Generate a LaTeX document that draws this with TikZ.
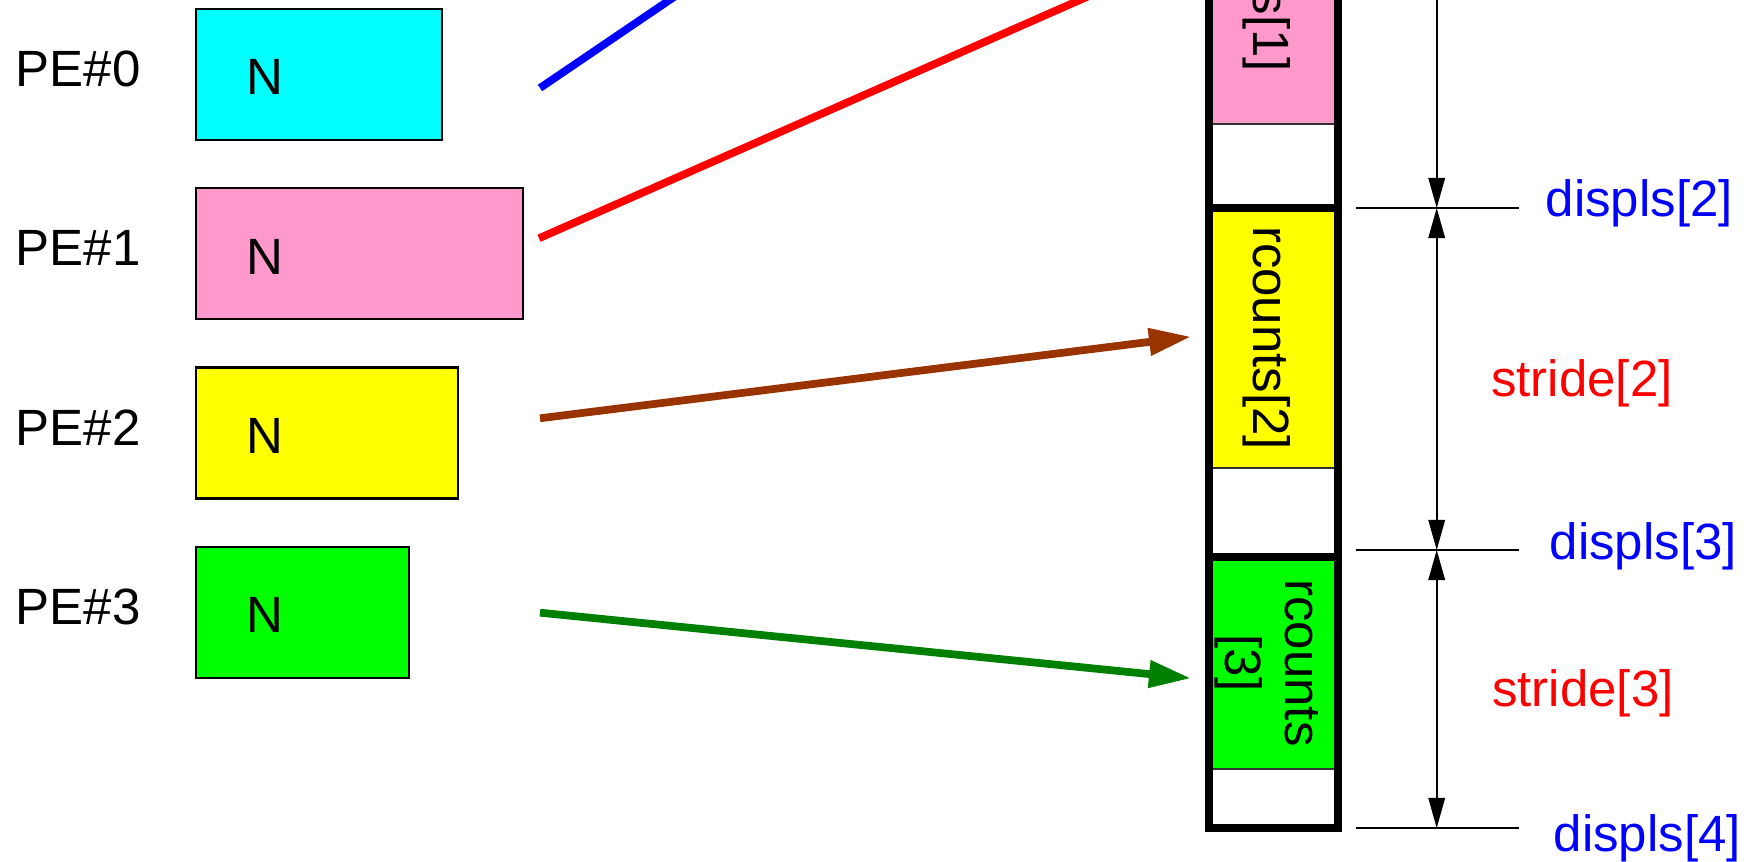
\documentclass[tikz,border=0pt]{standalone}
\usepackage{fontspec}
\setmainfont{Liberation Sans}
\usetikzlibrary{arrows.meta,calc}
\definecolor{pecyan}{RGB}{0,255,255}
\definecolor{pepink}{RGB}{255,153,204}
\definecolor{peyellow}{RGB}{255,255,0}
\definecolor{pegreen}{RGB}{0,255,0}
\definecolor{pebrown}{RGB}{153,51,0}
\definecolor{pedkgreen}{RGB}{0,128,0}
\definecolor{peblue}{RGB}{0,0,255}
\definecolor{pered}{RGB}{255,0,0}
\begin{document}
\begin{tikzpicture}[x=0.01cm,y=-0.01cm,
  font=\fontsize{14.5}{17}\selectfont,
  pebox/.style={draw=black, line width=0.6pt, inner sep=0pt, outer sep=0pt, minimum height=1.31cm},
  pelbl/.style={anchor=base west, inner sep=0pt},
  nlbl/.style={anchor=base, inner sep=0pt},
  conn/.style={line width=2.2pt},
  bigtip/.style={-{Triangle[length=0.42cm,width=0.26cm]}},
  bufseg/.style={inner sep=0pt, outer sep=0pt, minimum width=1.29cm},
  buftxt/.style={rotate=-90, inner sep=0pt, align=center},
  dimline/.style={line width=0.45pt},
  tickline/.style={line width=0.8pt},
  dimtips/.style={{Triangle[length=0.3cm,width=0.165cm]}-{Triangle[length=0.3cm,width=0.165cm]}},
  dimtip/.style={-{Triangle[length=0.3cm,width=0.165cm]}},
  thickbuf/.style={line width=2pt},
  sepline/.style={line width=0.4pt, draw=black!80}
]
\useasboundingbox (0,0) rectangle (1751,862);
\clip (0,0) rectangle (1751,862);

% PE labels
\node[pelbl] (pe0) at (15,86.7) {PE\#0};
\node[pelbl] (pe1) at (15,266) {PE\#1};
\node[pelbl] (pe2) at (15,445.3) {PE\#2};
\node[pelbl] (pe3) at (15,624.6) {PE\#3};

% source boxes
\node[pebox, fill=pecyan, minimum width=2.457cm] (b0) at (319.2,74.5) {};
\node[pebox, fill=pepink, minimum width=3.267cm] (b1) at (359.7,253.8) {};
\node[pebox, fill=peyellow, minimum width=2.617cm] (b2) at (327.2,433) {};
\node[pebox, fill=pegreen, minimum width=2.127cm] (b3) at (302.7,612.2) {};
\node[nlbl] (n0) at (265,95) {N};
\node[nlbl] (n1) at (265,274.3) {N};
\node[nlbl] (n2) at (265,453.7) {N};
\node[nlbl] (n3) at (265,632.7) {N};

% receive buffer
\node[bufseg, fill=pepink, minimum height=3.24cm] (rb1) at (1273.5,-38) {};
\node[bufseg, fill=peyellow, minimum height=2.6cm] (rb2) at (1273.5,338) {};
\node[bufseg, fill=pegreen, minimum height=2.12cm] (rb3) at (1273.5,663) {};
\draw[sepline] (rb1.south west) -- (rb1.south east);
\draw[sepline] (rb2.south west) -- (rb2.south east);
\draw[sepline] (rb3.south west) -- (rb3.south east);
\draw[thickbuf] (1209,-60) -- (1209,828) -- (1338,828) -- (1338,-60);
\draw[thickbuf] (1209,208) -- (1338,208);
\draw[thickbuf] (1209,557) -- (1338,557);

\node[buftxt] (t1) at (1267,-40) {rcounts[1]};
\node[buftxt] (t2) at (1267,338) {rcounts[2]};
\node[buftxt] (t3) at (1267,663) {rcounts\\{[3]}};

% connectors
\coordinate (s0) at (540,88);
\coordinate (s1) at (539,238.3);
\coordinate (s2) at (540,418.3);
\coordinate (s3) at (540,612.7);
\coordinate (e0) at (758,-60);
\coordinate (e1) at (1170.7,-40);
\coordinate (e2) at (1191,336.7);
\coordinate (e3) at (1191,678.3);
\draw[conn, peblue] (s0) -- (e0);
\draw[conn, pered] (s1) -- (e1);
\draw[conn, pebrown, bigtip] (s2) -- (e2);
\draw[conn, pedkgreen, bigtip] (s3) -- (e3);

% dimensions
\coordinate (dtop) at (1436.7,-60);
\coordinate (d2) at (1436.7,208);
\coordinate (d3) at (1436.7,550);
\coordinate (d4) at (1436.7,828);
\draw[dimline, dimtip] (dtop) -- (d2);
\draw[dimline, dimtips] (d2) -- (d3);
\draw[dimline, dimtips] (d3) -- (d4);
\coordinate (k2a) at (1356,208); \coordinate (k2b) at (1519,208);
\coordinate (k3a) at (1356,550); \coordinate (k3b) at (1519,550);
\coordinate (k4a) at (1356,828); \coordinate (k4b) at (1519,828);
\draw[tickline] (k2a) -- (k2b);
\draw[tickline] (k3a) -- (k3b);
\draw[tickline] (k4a) -- (k4b);

\node[pelbl, text=peblue] (dl2) at (1545,216.5) {displs[2]};
\node[pelbl, text=peblue] (dl3) at (1549,560) {displs[3]};
\node[pelbl, text=peblue] (dl4) at (1553,851.7) {displs[4]};
\node[pelbl, text=pered] (sd2) at (1490.5,396.7) {stride[2]};
\node[pelbl, text=pered] (sd3) at (1491.5,706.7) {stride[3]};
\end{tikzpicture}
\end{document}
